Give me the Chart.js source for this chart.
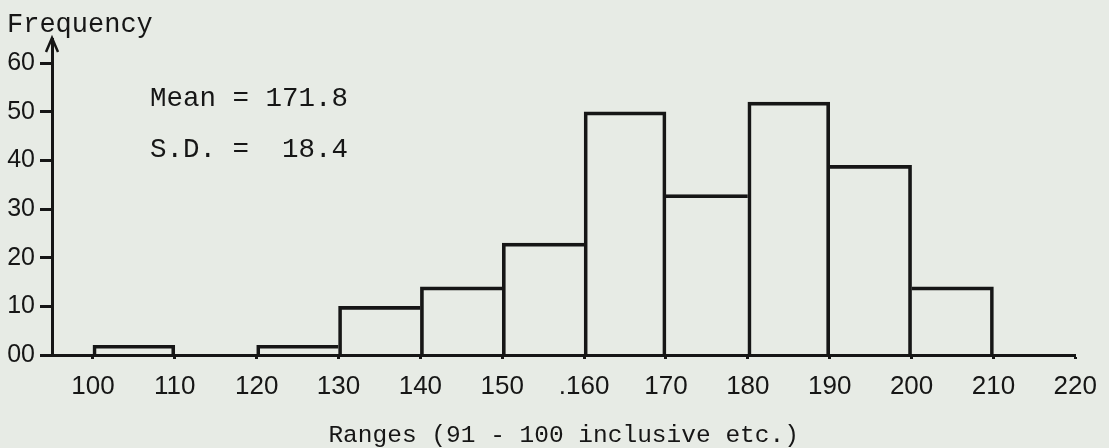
<!DOCTYPE html>
<html>
<head>
<meta charset="utf-8">
<script src="https://cdn.jsdelivr.net/npm/chart.js@4.4.1/dist/chart.umd.min.js"></script>
<style>
  html, body { margin: 0; padding: 0; background: #e7ebe5; }
</style>
</head>
<body>
<canvas id="histograma" width="1109" height="448"></canvas>
<script>
// Rangos de 10 (inicio de cada clase); la clase 110-120 está vacía
const binStarts = [100, 120, 130, 140, 150, 160, 170, 180, 190, 200];
const frequencies = [2, 2, 10, 14, 23, 50, 33, 52, 39, 14];
const binWidth = 10;

const xTickValues = [100, 110, 120, 130, 140, 150, 160, 170, 180, 190, 200, 210, 220];
const xTickLabels = ['100', '110', '120', '130', '140', '150', '.160', '170', '180', '190', '200', '210', '220'];
const yTickValues = [0, 10, 20, 30, 40, 50, 60];
const yTickLabels = ['00', '10', '20', '30', '40', '50', '60'];

const tinta = '#161616';
const LINEA = 3;
const mono = '"Liberation Mono", "DejaVu Sans Mono", monospace';
const sans = '"Liberation Sans", Arial, sans-serif';

// el borde compartido entre dos barras lo dibuja la más alta
function bordes(c) {
    const i = c.dataIndex;
    const h = frequencies[i];
    const prevAdj = i > 0 && binStarts[i - 1] + binWidth === binStarts[i];
    const nextAdj = i < binStarts.length - 1 && binStarts[i] + binWidth === binStarts[i + 1];
    return {
        top: LINEA,
        bottom: 0,
        left: (!prevAdj || h > frequencies[i - 1]) ? LINEA : 0,
        right: (!nextAdj || h >= frequencies[i + 1]) ? LINEA : 0
    };
}

const anotaciones = {
    id: 'anotaciones',
    afterDraw(chart) {
        const { ctx, chartArea } = chart;
        const x0 = chartArea.left;
        const y0 = chartArea.top;
        ctx.save();
        // flecha del eje Y
        ctx.strokeStyle = tinta;
        ctx.lineWidth = 2.5;
        ctx.beginPath();
        ctx.moveTo(x0 - 6, y0 + 13);
        ctx.lineTo(x0, y0 - 1);
        ctx.lineTo(x0 + 6, y0 + 13);
        ctx.stroke();

        ctx.fillStyle = tinta;
        ctx.textBaseline = 'alphabetic';
        ctx.textAlign = 'left';
        ctx.font = '27px ' + mono;
        ctx.fillText('Frequency', 7, 32);
        ctx.font = '27.5px ' + mono;
        ctx.fillText('Mean = 171.8', 150, 106);
        ctx.fillText('S.D. =  18.4', 150, 157);
        ctx.restore();
    }
};

const ctx = document.getElementById('histograma').getContext('2d');

new Chart(ctx, {
    type: 'bar',
    data: {
        datasets: [{
            label: 'Frequency',
            data: binStarts.map((b, i) => ({ x: b + binWidth / 2, y: frequencies[i] })),
            backgroundColor: 'rgba(0,0,0,0)',
            borderColor: tinta,
            borderWidth: bordes,
            borderSkipped: false,
            barPercentage: 1,
            categoryPercentage: 1
        }]
    },
    options: {
        responsive: false,
        animation: false,
        events: [],
        layout: { padding: { top: 39, right: 31, left: 0, bottom: 0 } },
        plugins: {
            legend: { display: false },
            tooltip: { enabled: false }
        },
        scales: {
            x: {
                type: 'linear',
                offset: false,
                min: 95,
                max: 220,
                afterBuildTicks: (s) => { s.ticks = xTickValues.map(v => ({ value: v })); },
                afterFit: (s) => { s.height = 93; },
                ticks: {
                    callback: (v) => xTickLabels[xTickValues.indexOf(v)],
                    font: { family: sans, size: 26 },
                    color: tinta,
                    padding: 12,
                    maxRotation: 0,
                    autoSkip: false
                },
                grid: {
                    offset: false,
                    drawOnChartArea: false,
                    tickLength: 4,
                    tickWidth: 3,
                    tickColor: tinta
                },
                border: { color: tinta, width: LINEA },
                title: {
                    display: true,
                    text: 'Ranges (91 - 100 inclusive etc.)',
                    font: { family: mono, size: 24.5, lineHeight: 1 },
                    color: tinta,
                    padding: { top: 0, bottom: 0 }
                }
            },
            y: {
                min: 0,
                max: 65,
                afterBuildTicks: (s) => { s.ticks = yTickValues.map(v => ({ value: v })); },
                afterFit: (s) => { s.width = 52; },
                ticks: {
                    callback: (v) => yTickLabels[yTickValues.indexOf(v)],
                    font: { family: sans, size: 25 },
                    color: tinta,
                    padding: 5
                },
                grid: {
                    drawOnChartArea: false,
                    tickLength: 12,
                    tickWidth: 3,
                    tickColor: tinta
                },
                border: { color: tinta, width: LINEA }
            }
        }
    },
    plugins: [anotaciones]
});
</script>
</body>
</html>
